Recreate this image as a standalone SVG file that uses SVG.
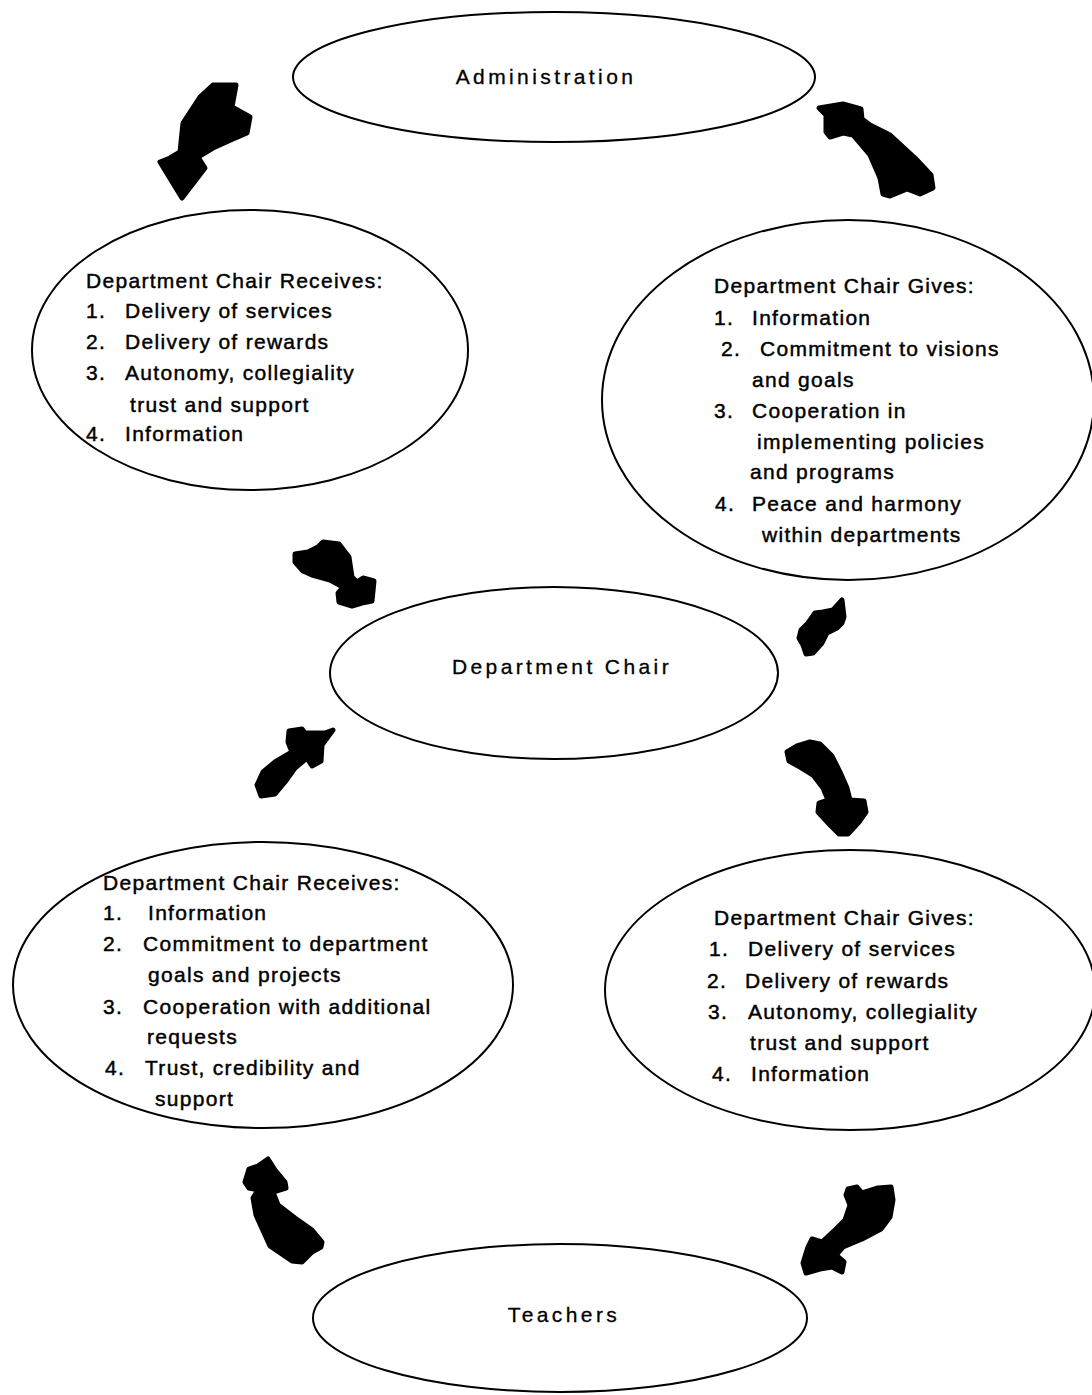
<svg xmlns="http://www.w3.org/2000/svg" width="1092" height="1395" viewBox="0 0 1092 1395">
<style>
.node{fill:none;stroke:#000;stroke-width:2}
.t{font-family:"Liberation Sans",Arial,sans-serif;font-size:21px;fill:#000;stroke:#000;stroke-width:0.45;letter-spacing:1.3px}
.title{font-family:"Liberation Sans",Arial,sans-serif;font-size:21px;fill:#000;stroke:#000;stroke-width:0.3;letter-spacing:3.4px;text-anchor:middle}
.arrow{fill:#000;stroke:#000;stroke-width:5;stroke-linejoin:round}
</style>
<rect width="1092" height="1395" fill="#fff"/>
<g id="administration">
<ellipse class="node" cx="554" cy="77" rx="261" ry="65"/>
<text class="title" x="546" y="84">Administration</text>
</g>
<g id="receives-top">
<ellipse class="node" cx="250" cy="350" rx="218" ry="140"/>
<text class="t" x="86" y="288">Department Chair Receives:</text>
<text class="t" x="86" y="318">1.</text><text class="t" x="125" y="318">Delivery of services</text>
<text class="t" x="86" y="349">2.</text><text class="t" x="125" y="349">Delivery of rewards</text>
<text class="t" x="86" y="380">3.</text><text class="t" x="125" y="380">Autonomy, collegiality</text>
<text class="t" x="130" y="412">trust and support</text>
<text class="t" x="86" y="441">4.</text><text class="t" x="125" y="441">Information</text>
</g>
<g id="gives-top">
<ellipse class="node" cx="848" cy="400" rx="246" ry="180"/>
<text class="t" x="714" y="293">Department Chair Gives:</text>
<text class="t" x="714" y="325">1.</text><text class="t" x="752" y="325">Information</text>
<text class="t" x="721" y="356">2.</text><text class="t" x="760" y="356">Commitment to visions</text>
<text class="t" x="752" y="387">and goals</text>
<text class="t" x="714" y="418">3.</text><text class="t" x="752" y="418">Cooperation in</text>
<text class="t" x="757" y="449">implementing policies</text>
<text class="t" x="750" y="479">and programs</text>
<text class="t" x="715" y="511">4.</text><text class="t" x="752" y="511">Peace and harmony</text>
<text class="t" x="762" y="542">within departments</text>
</g>
<g id="department-chair">
<ellipse class="node" cx="554" cy="673" rx="224" ry="86"/>
<text class="title" x="562" y="674">Department  Chair</text>
</g>
<g id="receives-bottom">
<ellipse class="node" cx="263" cy="985" rx="250" ry="143"/>
<text class="t" x="103" y="890">Department Chair Receives:</text>
<text class="t" x="103" y="920">1.</text><text class="t" x="148" y="920">Information</text>
<text class="t" x="103" y="951">2.</text><text class="t" x="143" y="951">Commitment to department</text>
<text class="t" x="148" y="982">goals and projects</text>
<text class="t" x="103" y="1014">3.</text><text class="t" x="143" y="1014">Cooperation with additional</text>
<text class="t" x="147" y="1044">requests</text>
<text class="t" x="105" y="1075">4.</text><text class="t" x="145" y="1075">Trust, credibility and</text>
<text class="t" x="155" y="1106">support</text>
</g>
<g id="gives-bottom">
<ellipse class="node" cx="850" cy="990" rx="245" ry="140"/>
<text class="t" x="714" y="925">Department Chair Gives:</text>
<text class="t" x="709" y="956">1.</text><text class="t" x="748" y="956">Delivery of services</text>
<text class="t" x="707" y="988">2.</text><text class="t" x="745" y="988">Delivery of rewards</text>
<text class="t" x="708" y="1019">3.</text><text class="t" x="748" y="1019">Autonomy, collegiality</text>
<text class="t" x="750" y="1050">trust and support</text>
<text class="t" x="712" y="1081">4.</text><text class="t" x="751" y="1081">Information</text>
</g>
<g id="teachers">
<ellipse class="node" cx="560" cy="1318" rx="247" ry="74"/>
<text class="title" x="564" y="1322">Teachers</text>
</g>
<g id="connectors">
<polygon class="arrow" points="213,85 236,85 232,107 250,117 247,133 233,139 213,148 198,157 205,168 182,198 160,162 170,158 180,152 183,123 200,97"/>
<polygon class="arrow" points="819,108 843,104 861,109 862,119 870,125 890,135 915,158 931,175 933,188 920,194 907,189 890,196 883,194 880,178 870,155 853,135 843,133 830,137 826,132 826,115"/>
<polygon class="arrow" points="323,542 339,544 349,557 352,577 357,582 363,578 374,581 372,601 362,603 352,606 339,602 338,593 343,587 330,580 312,575 303,571 295,562 295,554 308,552 318,547"/>
<polygon class="arrow" points="842,600 844,617 842,623 837,628 827,633 822,643 813,653 806,654 803,645 799,638 801,630 808,623 815,613 823,612 833,610"/>
<polygon class="arrow" points="289,731 302,729 305,733 325,733 333,730 322,745 321,761 312,766 307,758 295,768 285,782 275,794 261,796 257,785 263,772 275,762 292,752 288,742"/>
<polygon class="arrow" points="810,742 820,744 832,756 840,772 847,788 850,800 864,801 866,812 859,822 848,834 839,834 830,825 818,812 819,803 828,800 823,788 813,775 800,767 789,761 787,752 797,746"/>
<polygon class="arrow" points="268,1159 275,1170 285,1182 286,1188 273,1192 278,1205 295,1218 312,1230 322,1242 321,1247 312,1252 302,1262 292,1261 270,1246 256,1215 253,1198 258,1190 249,1188 245,1182 249,1169 258,1166"/>
<polygon class="arrow" points="848,1189 857,1187 862,1193 878,1188 891,1187 893,1200 890,1217 881,1229 862,1239 843,1247 836,1255 844,1262 842,1272 832,1267 820,1269 806,1273 803,1263 808,1247 812,1239 822,1242 835,1230 845,1220 850,1205 846,1195"/>
</g>
</svg>
